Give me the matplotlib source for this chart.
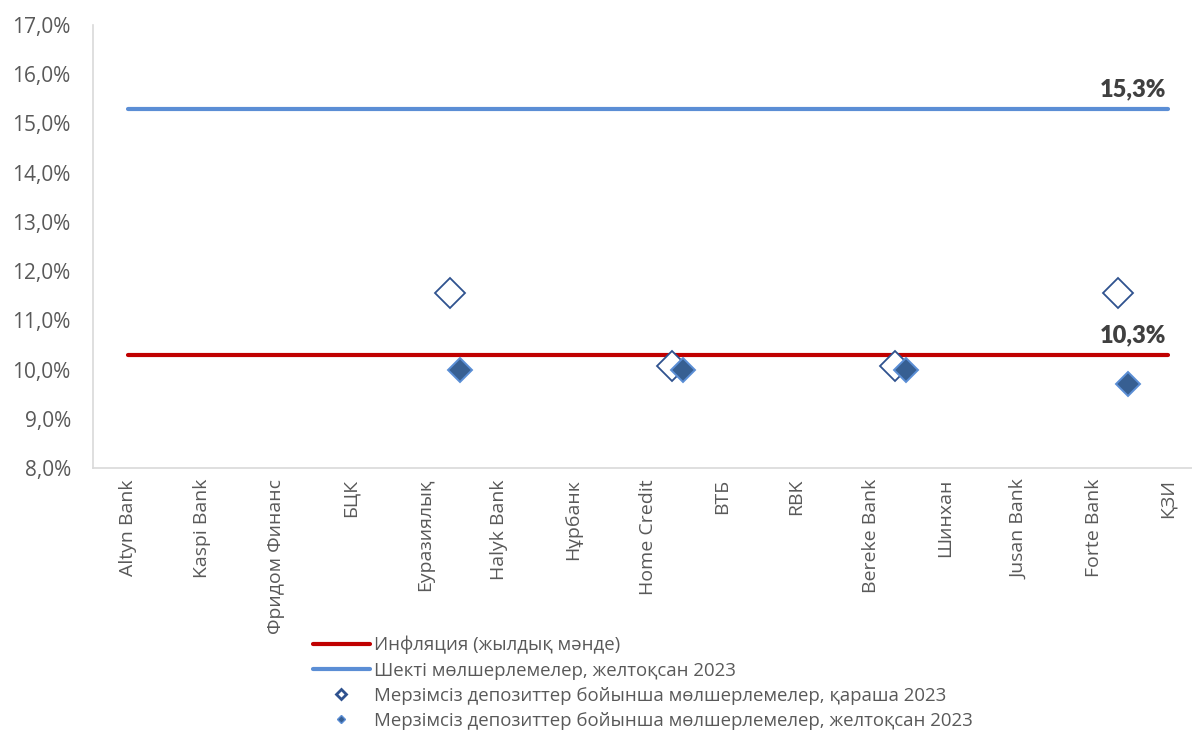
import matplotlib
matplotlib.use("Agg")
import matplotlib.pyplot as plt
from matplotlib.ticker import FuncFormatter, MultipleLocator
import numpy as np

banks = ["Altyn Bank", "Kaspi Bank", "Фридом Финанс", "БЦК", "Еуразиялық",
         "Halyk Bank", "Нұрбанк", "Home Credit", "ВТБ", "RBK",
         "Bereke Bank", "Шинхан", "Jusan Bank", "Forte Bank", "ҚЗИ"]
nan = np.nan
inflation = [10.3, 10.3, 10.3, 10.3, 10.3, 10.3, 10.3, 10.3, 10.3, 10.3, 10.3, 10.3, 10.3, 10.3, 10.3]
limit_rate = [15.3, 15.3, 15.3, 15.3, 15.3, 15.3, 15.3, 15.3, 15.3, 15.3, 15.3, 15.3, 15.3, 15.3, 15.3]
rate_nov = [nan, nan, nan, nan, 11.55, nan, nan, 10.07, nan, nan, 10.07, nan, nan, 11.55, nan]
rate_dec = [nan, nan, nan, nan, 10.0, nan, nan, 10.0, nan, nan, 10.0, nan, nan, 9.7, nan]

labels = ["Инфляция (жылдық мәнде)",
          "Шекті мөлшерлемелер, желтоқсан 2023",
          "Мерзімсіз депозиттер бойынша мөлшерлемелер, қараша 2023",
          "Мерзімсіз депозиттер бойынша мөлшерлемелер, желтоқсан 2023"]

plt.rcParams['font.family'] = ['Open Sans', 'DejaVu Sans']

fig = plt.figure(figsize=(11.92, 7.31), dpi=100)
ax = fig.add_axes([93 / 1192, 1 - 468 / 731, (1205 - 93) / 1192, (468 - 25) / 731])

x = np.arange(len(banks))
l1, = ax.plot(x, inflation, color='#C00000', lw=3, solid_capstyle='round', label=labels[0])
l2, = ax.plot(x, limit_rate, color='#5B8ED5', lw=3, solid_capstyle='round', label=labels[1])
m1, = ax.plot(x + 0.33, rate_nov, ls='none', marker='D', ms=15, mfc='white',
              mec='#2F528F', mew=1.3, label=labels[2])
m2, = ax.plot(x + 0.47, rate_dec, ls='none', marker='D', ms=12.5, mfc='#375F92',
              mec='#5B8ED5', mew=1.4, label=labels[3])

for series in (limit_rate, inflation):
    ax.annotate(f"{series[-1]:.1f}%".replace('.', ','), xy=(x[-1], series[-1]),
                xytext=(-1, 6), textcoords='offset points', ha='right', va='bottom',
                fontsize=17, fontweight='heavy', color='#404040', family=['Lato', 'DejaVu Sans'])

ax.set_xlim(-0.47, 14.5)
ax.set_ylim(8, 17)
ax.yaxis.set_major_locator(MultipleLocator(1))
ax.yaxis.set_major_formatter(FuncFormatter(lambda v, p: f"{v:.1f}%".replace('.', ',')))
ax.set_xticks(x)
ax.set_xticklabels(banks, rotation=90, va='top', ha='center')
ax.tick_params(axis='both', length=0, labelsize=14, colors='#595959')
ax.tick_params(axis='y', pad=16, labelsize=15)
ax.tick_params(axis='x', pad=8)

for side in ('top', 'right'):
    ax.spines[side].set_visible(False)
for side in ('left', 'bottom'):
    ax.spines[side].set_color('#D9D9D9')
    ax.spines[side].set_linewidth(1.2)

leg = ax.legend(handles=[l1, l2, m1, m2], loc='upper left',
                bbox_to_anchor=(313 / 1192, 1 - 636 / 731), bbox_transform=fig.transFigure,
                frameon=False, fontsize=13.4, handlelength=3.05, handletextpad=0.22,
                labelspacing=0.38, borderpad=0, borderaxespad=0, markerscale=0.36)
for t in leg.get_texts():
    t.set_color('#595959')
leg.legend_handles[2].set_markeredgewidth(2)
leg.legend_handles[3].set_markeredgewidth(1)

fig.savefig("out.png", dpi=100)
